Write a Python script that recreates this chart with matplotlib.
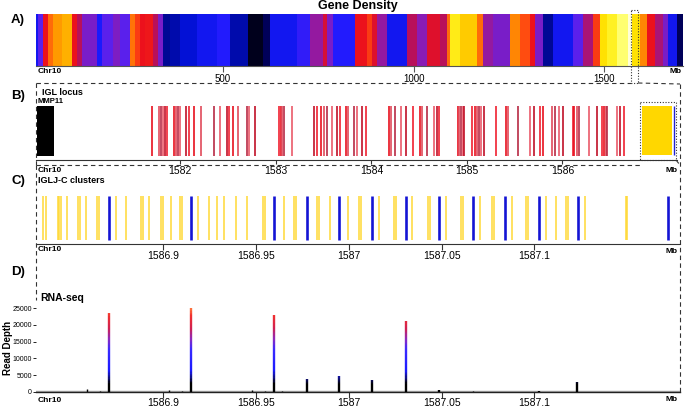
import matplotlib
matplotlib.use("Agg")
import matplotlib.pyplot as plt
import numpy as np
from matplotlib.colors import LinearSegmentedColormap
from matplotlib.collections import LineCollection
from matplotlib.lines import Line2D

plt.rcParams['font.family'] = ['Liberation Sans', 'DejaVu Sans']

# ---- A) gene density along Chr10 (Mb) ----
density_edges = [9, 14.4, 27.6, 40.7, 53.8, 77.4, 103.7, 116.8, 129.9, 169.3, 182.4,
                 211.3, 229.7, 255.9, 269.0, 282.2, 295.3, 316.3, 329.4, 342.5, 360.9,
                 387.1, 431.8, 484.3, 518.4, 565.6, 605.0, 623.4, 694.2, 728.3, 762.5,
                 773.0, 788.7, 846.5, 878.0, 891.1, 904.2, 930.4, 982.9, 1009.2, 1035.4,
                 1069.6, 1088.0, 1095.8, 1122.0, 1166.7, 1182.4, 1208.7, 1253.3, 1279.5,
                 1305.8, 1318.9, 1339.9, 1366.1, 1418.6, 1444.9, 1471.1, 1489.5, 1507.9,
                 1534.1, 1563.0, 1573.5, 1594.5, 1612.9, 1633.9, 1654.9, 1668.0, 1691.6,
                 1707.3]
density_values = [0.3, 0.4, 0.65, 0.75, 0.8, 0.83, 0.65, 0.58, 0.45, 0.32,
                  0.4, 0.46, 0.4, 0.76, 0.7, 0.65, 0.66, 0.58, 0.45, 0.2,
                  0.22, 0.26, 0.3, 0.33, 0.22, 0.05, 0.15, 0.3, 0.35, 0.5,
                  0.62, 0.45, 0.33, 0.65, 0.7, 0.63, 0.5, 0.3, 0.58, 0.48,
                  0.63, 0.58, 0.75, 0.92, 0.87, 0.75, 0.5, 0.45, 0.78, 0.72,
                  0.65, 0.45, 0.2, 0.3, 0.4, 0.55, 0.7, 0.9, 0.93, 0.97,
                  1.0, 0.9, 0.78, 0.65, 0.55, 0.45, 0.3, 0.15]
density_ticks = [500, 1000, 1500]

# ---- B) IGL locus ----
mmp11 = [1580.50, 1580.68]
igl_genes = [1581.700, 1581.780, 1581.798, 1581.816, 1581.840, 1581.864, 1581.937,
             1581.955, 1581.973, 1581.997, 1582.057, 1582.091, 1582.143, 1582.214,
             1582.353, 1582.416, 1582.492, 1582.510, 1582.555, 1582.601, 1582.695,
             1582.723, 1582.782, 1583.037, 1583.051, 1583.068, 1583.089, 1583.166,
             1583.400, 1583.435, 1583.470, 1583.508, 1583.539, 1583.585, 1583.638,
             1583.672, 1583.732, 1583.759, 1583.822, 1583.853, 1583.906, 1583.945,
             1584.185, 1584.206, 1584.248, 1584.308, 1584.360, 1584.434, 1584.510,
             1584.534, 1584.580, 1584.657, 1584.691, 1584.709, 1584.905, 1584.918,
             1584.936, 1584.957, 1584.974, 1585.058, 1585.086, 1585.110, 1585.131,
             1585.149, 1585.180, 1585.303, 1585.410, 1585.428, 1585.539, 1585.662,
             1585.704, 1585.767, 1585.801, 1585.889, 1585.924, 1585.969, 1586.010,
             1586.109, 1586.126, 1586.151, 1586.178, 1586.283, 1586.360, 1586.419,
             1586.437, 1586.454, 1586.471, 1586.570, 1586.604, 1586.646]
iglc_cluster = [1586.831, 1587.146]
iglc_last = 1587.17
locus_ticks = [1582, 1583, 1584, 1585, 1586]

# ---- C) IGLJ-C clusters ----
iglj_genes = [1586.8355, 1586.8368, 1586.8433, 1586.8442, 1586.8452, 1586.8481,
              1586.8541, 1586.8553, 1586.8585, 1586.8645, 1586.8657, 1586.8745,
              1586.8801, 1586.8880, 1586.8891, 1586.8925, 1586.8988, 1586.8998,
              1586.9043, 1586.9093, 1586.9104, 1586.9188, 1586.9248, 1586.9292,
              1586.9328, 1586.9391, 1586.9451, 1586.9540, 1586.9551, 1586.9652,
              1586.9707, 1586.9716, 1586.9828, 1586.9838, 1586.9899, 1586.9995,
              1587.0057, 1587.0066, 1587.0163, 1587.0244, 1587.0253, 1587.0342,
              1587.0427, 1587.0438, 1587.0524, 1587.0603, 1587.0614, 1587.0707,
              1587.0773, 1587.0784, 1587.0879, 1587.0955, 1587.0967, 1587.1063,
              1587.1115, 1587.1170, 1587.1181, 1587.1273, 1587.1492, 1587.1500]
iglc_genes = [1586.8709, 1586.9151, 1586.9599, 1586.9777, 1586.9950, 1587.0124,
              1587.0307, 1587.0486, 1587.0671, 1587.0840, 1587.1025, 1587.1233,
              1587.1721]
cluster_ticks = [1586.9, 1586.95, 1587.0, 1587.05, 1587.1]
cluster_labels = ['1586.9', '1586.95', '1587', '1587.05', '1587.1']

# ---- D) RNA-seq ----
peak_pos = [1586.8709, 1586.9151, 1586.9598, 1586.9775, 1586.9948, 1587.0126,
            1587.0309, 1587.0486, 1587.1025, 1587.1229]
peak_depth = [23500, 24900, 22900, 3900, 4700, 3600, 21100, 600, 400, 3100]
bump_pos = [1586.8589, 1586.8661, 1586.9032, 1586.9102, 1586.9479, 1586.9549,
            1586.9641, 1587.0671]
bump_depth = [800, 400, 600, 400, 700, 400, 400, 300]
depth_ticks = [0, 5000, 10000, 15000, 20000, 25000]

W, H = 685, 409


def fx(x):
    return x / W


def fy(y):
    return 1 - y / H


def box(l, t, r, b):
    return [fx(l), fy(b), fx(r) - fx(l), fy(t) - fy(b)]


dens_cmap = LinearSegmentedColormap.from_list('dens', [
    (0.0, '#000000'), (0.15, '#00005a'), (0.25, '#0010d0'), (0.32, '#1a1aff'),
    (0.4, '#5a20ec'), (0.48, '#8a1cb4'), (0.58, '#b8105a'), (0.65, '#ec101c'),
    (0.72, '#ff4a10'), (0.8, '#ff9a00'), (0.9, '#ffe000'), (0.96, '#ffff40'),
    (1.0, '#ffffd8')])
peak_cmap = LinearSegmentedColormap.from_list('peak', [
    (0.0, '#000000'), (0.09, '#000000'), (0.16, '#101080'), (0.25, '#1a1aff'),
    (0.5, '#3a2aff'), (0.62, '#8a2ac0'), (0.75, '#d02050'), (0.9, '#f03030'),
    (1.0, '#ff8040')])

fig = plt.figure(figsize=(6.85, 4.09), dpi=100)

bold = dict(fontweight='bold')

# ---------------- A ----------------
ax_a = fig.add_axes(box(36, 14, 683, 66))
ax_a.pcolormesh(density_edges, [0, 1], [density_values], cmap=dens_cmap, vmin=0, vmax=1)
ax_a.set_xlim(9, 1707)
ax_a.set_ylim(0, 1)
for s in ['left', 'right', 'top']:
    ax_a.spines[s].set_visible(False)
ax_a.spines['bottom'].set_color('#555555')
ax_a.set_yticks([])
ax_a.set_xticks(density_ticks)
ax_a.tick_params(axis='x', length=4, width=0.8, pad=1.5, labelsize=7, color='#555555')
fig.text(fx(358), fy(6), 'Gene Density', ha='center', va='center', fontsize=9, **bold)

# ---------------- B ----------------
ax_b = fig.add_axes(box(36, 100, 677, 160))
ax_b.set_xlim(1580.489, 1587.20)
ax_b.set_ylim(0, 1)
red_shades = ['#e8101e', '#e04a5a', '#b82a44', '#ea5a6a', '#c01028', '#f02030']
for i, g in enumerate(igl_genes):
    ax_b.vlines(g, 0.07, 0.9, color=red_shades[i % len(red_shades)], lw=1.2)
ax_b.axvspan(mmp11[0], mmp11[1], 0.07, 0.9, color='black', lw=0)
ax_b.axvspan(iglc_cluster[0], iglc_cluster[1], 0.09, 0.9, color='#ffd700', lw=0)
ax_b.vlines(iglc_last, 0.09, 0.9, color='#2020d0', lw=1)
for s in ['left', 'right', 'top']:
    ax_b.spines[s].set_visible(False)
ax_b.spines['bottom'].set_color('#333333')
ax_b.set_yticks([])
ax_b.set_xticks(locus_ticks)
ax_b.tick_params(axis='x', length=3, width=0.8, pad=1.5, labelsize=7.5, color='#333333')

# ---------------- C ----------------
ax_c = fig.add_axes(box(36, 190, 680, 244))
ax_c.set_xlim(1586.8316, 1587.1784)
ax_c.set_ylim(0, 1)
ax_c.vlines(iglj_genes, 0.074, 0.889, color='#ffd835', lw=1.1)
ax_c.vlines(iglc_genes, 0.074, 0.889, color='#1414d4', lw=1.9)
for s in ['left', 'right', 'top']:
    ax_c.spines[s].set_visible(False)
ax_c.spines['bottom'].set_color('#333333')
ax_c.set_yticks([])
ax_c.set_xticks(cluster_ticks)
ax_c.set_xticklabels(cluster_labels)
ax_c.tick_params(axis='x', length=4, width=0.8, pad=1, labelsize=7.5, color='#333333')

# ---------------- D ----------------
ax_d = fig.add_axes(box(36, 302, 680, 392))
ax_d.set_xlim(1586.8316, 1587.1784)
ax_d.set_ylim(0, 26800)
ax_d.axhline(0, color='#aaaaaa', lw=2.5, zorder=1)
ax_d.vlines(bump_pos, 0, bump_depth, color='black', lw=1, zorder=2)
for pos, h in zip(peak_pos, peak_depth):
    ys = np.linspace(0, h, 60)
    segs = [[(pos, ys[i]), (pos, ys[i + 1])] for i in range(len(ys) - 1)]
    lc = LineCollection(segs, colors=peak_cmap(ys[:-1] / 25000), linewidths=1.7, zorder=3)
    ax_d.add_collection(lc)
for s in ['left', 'right', 'top']:
    ax_d.spines[s].set_visible(False)
ax_d.spines['bottom'].set_color('#222222')
ax_d.spines['bottom'].set_linewidth(1.0)
ax_d.set_yticks(depth_ticks)
ax_d.tick_params(axis='y', length=2, width=0.6, pad=1, labelsize=5)
ax_d.set_xticks(cluster_ticks)
ax_d.set_xticklabels(cluster_labels)
ax_d.tick_params(axis='x', length=4, width=0.8, pad=0.5, labelsize=7.5, color='#333333')
fig.text(fx(8), fy(348), 'Read Depth', rotation=90, ha='center', va='center', fontsize=7, **bold)

# ---------------- labels ----------------
for lab, y in [('A)', 19.5), ('B)', 96), ('C)', 181), ('D)', 272)]:
    fig.text(fx(11), fy(y), lab, ha='left', va='center', fontsize=9.5, **bold)
for y in [71.5, 171, 249.5, 400.5]:
    fig.text(fx(38), fy(y), 'Chr10', ha='left', va='center', fontsize=6, **bold)
for x, y in [(681, 71.5), (677, 170.5), (678, 251.5), (678, 399.5)]:
    fig.text(fx(x), fy(y), 'Mb', ha='right', va='center', fontsize=6, **bold)
fig.text(fx(42), fy(92.5), 'IGL locus', ha='left', va='center', fontsize=6.5, **bold)
fig.text(fx(37), fy(101.5), 'MMP11', ha='left', va='center', fontsize=5.5, **bold)
fig.text(fx(38), fy(180.5), 'IGLJ-C clusters', ha='left', va='center', fontsize=6.5, **bold)
fig.text(fx(40), fy(298), 'RNA-seq', ha='left', va='center', fontsize=7.5, **bold)

# ---------------- zoom connectors ----------------
dash = (0, (4, 3))
dot = (0, (1, 1.5))


def fline(xs, ys, ls):
    fig.add_artist(Line2D([fx(v) for v in xs], [fy(v) for v in ys],
                          transform=fig.transFigure, color='#333333', lw=0.8, linestyle=ls))


# dotted window on A
fline([631, 638, 638, 631, 631], [10, 10, 83, 83, 10], dot)
# B frame
fline([36, 631], [83, 83], dash)
fline([638, 680], [83, 84], dash)
fline([36, 36], [83, 165], dash)
fline([36, 640], [165, 165], dash)
fline([680, 680], [84, 392], dash)
# dotted window on B
fline([640, 676, 676, 640, 640], [102, 102, 160, 160, 102], dot)
fline([676, 680], [160, 165], dash)
# C/D frame left side
fline([36, 36], [165, 300], dash)

fig.savefig('out.png', dpi=100)
